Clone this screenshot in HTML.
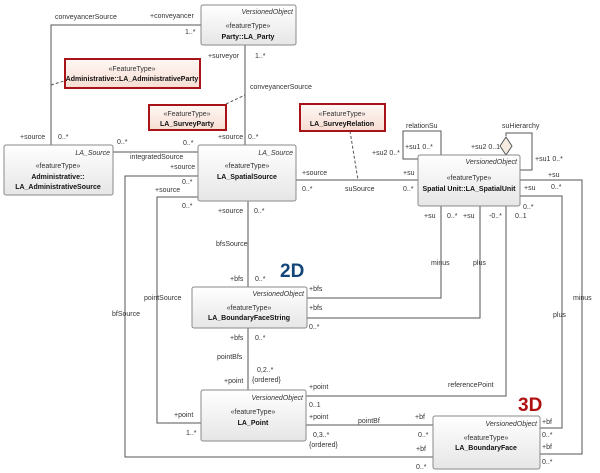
<!DOCTYPE html>
<html><head><meta charset="utf-8"><style>
body{margin:0;background:#fff;width:600px;height:473px;overflow:hidden}
svg{display:block;font-family:"Liberation Sans",sans-serif}
text{font-size:7px;fill:#333}
.b{font-weight:bold;fill:#111}
.i{font-style:italic}
</style></head><body>
<svg width="600" height="473" viewBox="0 0 600 473">
<defs>
<linearGradient id="g" x1="0" y1="0" x2="0" y2="1"><stop offset="0" stop-color="#ffffff"/><stop offset="1" stop-color="#e6e6e6"/></linearGradient>
<linearGradient id="r" x1="0" y1="0" x2="0" y2="1"><stop offset="0" stop-color="#fff8f4"/><stop offset="1" stop-color="#f6ddd2"/></linearGradient>
</defs>
<g fill="none" stroke="#555" stroke-width="1">
<polyline points="201,25 51,25 51,145"/>
<line x1="245" y1="45" x2="245" y2="145"/>
<line x1="113" y1="152" x2="198" y2="152"/>
<line x1="296" y1="180" x2="418" y2="180"/>
<line x1="248" y1="201" x2="248" y2="287"/>
<polyline points="198,176 125,176 125,457 433,457"/>
<polyline points="198,197 157,197 157,423 201,423"/>
<line x1="248" y1="328" x2="248" y2="390"/>
<polyline points="441,206 441,298 307,298"/>
<polyline points="480,206 480,318 307,318"/>
<polyline points="506,206 506,396 306,396"/>
<line x1="306" y1="425" x2="433" y2="425"/>
<polyline points="520,180 582,180 582,454 540,454"/>
<polyline points="520,196 562,196 562,428 540,428"/>
<polyline points="441,155 441,131 403,131 403,159 418,159"/>
<polyline points="506,136 506,133 532,133 532,170 520,170"/>
<g stroke-dasharray="3,2">
<line x1="51" y1="85" x2="64" y2="81"/>
<line x1="226" y1="104" x2="245" y2="95"/>
<line x1="350" y1="131" x2="358" y2="180"/>
</g>
</g>
<polygon points="506,137 512,146 506,155 500,146" fill="#f5ebe0" stroke="#555"/>
<!-- boxes -->
<g stroke="#8a8a8a" fill="url(#g)">
<rect x="201" y="5" width="95" height="40" rx="2"/>
<rect x="4" y="145" width="109" height="50" rx="2"/>
<rect x="198" y="145" width="98" height="56" rx="2"/>
<rect x="418" y="155" width="102" height="51" rx="2"/>
<rect x="192" y="287" width="115" height="41" rx="2"/>
<rect x="201" y="390" width="105" height="51" rx="2"/>
<rect x="433" y="416" width="107" height="53" rx="2"/>
</g>
<g stroke="#a8131a" stroke-width="2" fill="url(#r)">
<rect x="65" y="59" width="135" height="29"/>
<rect x="149" y="105" width="77" height="25"/>
<rect x="300" y="104" width="85" height="27"/>
</g>
<text x="293" y="14" text-anchor="end" class="i">VersionedObject</text>
<text x="248" y="28" text-anchor="middle">«featureType»</text>
<text x="248" y="39" text-anchor="middle" class="b">Party::LA_Party</text>
<text x="132" y="71" text-anchor="middle">«FeatureType»</text>
<text x="132" y="81" text-anchor="middle" class="b">Administrative::LA_AdministrativeParty</text>
<text x="187" y="116" text-anchor="middle">«FeatureType»</text>
<text x="187" y="126" text-anchor="middle" class="b">LA_SurveyParty</text>
<text x="342" y="116" text-anchor="middle">«FeatureType»</text>
<text x="342" y="126" text-anchor="middle" class="b">LA_SurveyRelation</text>
<text x="110" y="155" text-anchor="end" class="i">LA_Source</text>
<text x="58" y="168" text-anchor="middle">«featureType»</text>
<text x="58" y="179" text-anchor="middle" class="b">Administrative::</text>
<text x="58" y="189" text-anchor="middle" class="b">LA_AdministrativeSource</text>
<text x="293" y="155" text-anchor="end" class="i">LA_Source</text>
<text x="247" y="168" text-anchor="middle">«featureType»</text>
<text x="247" y="179" text-anchor="middle" class="b">LA_SpatialSource</text>
<text x="517" y="164" text-anchor="end" class="i">VersionedObject</text>
<text x="469" y="180" text-anchor="middle">«featureType»</text>
<text x="469" y="191" text-anchor="middle" class="b">Spatial Unit::LA_SpatialUnit</text>
<text x="304" y="296" text-anchor="end" class="i">VersionedObject</text>
<text x="249" y="310" text-anchor="middle">«featureType»</text>
<text x="249" y="320" text-anchor="middle" class="b">LA_BoundaryFaceString</text>
<text x="303" y="400" text-anchor="end" class="i">VersionedObject</text>
<text x="253" y="414" text-anchor="middle">«featureType»</text>
<text x="253" y="425" text-anchor="middle" class="b">LA_Point</text>
<text x="537" y="426" text-anchor="end" class="i">VersionedObject</text>
<text x="486" y="440" text-anchor="middle">«featureType»</text>
<text x="486" y="450" text-anchor="middle" class="b">LA_BoundaryFace</text>
<text x="280" y="277" style="font-size:19px;font-weight:bold;fill:#14457a">2D</text>
<text x="518" y="411" style="font-size:19px;font-weight:bold;fill:#b01010">3D</text>
<text x="55" y="19">conveyancerSource</text>
<text x="150" y="18">+conveyancer</text>
<text x="185" y="34">1..*</text>
<text x="208" y="58">+surveyor</text>
<text x="255" y="58">1..*</text>
<text x="250" y="89">conveyancerSource</text>
<text x="20" y="139">+source</text>
<text x="58" y="139">0..*</text>
<text x="117" y="144">0..*</text>
<text x="183" y="145">0..*</text>
<text x="218" y="139">+source</text>
<text x="248" y="139">0..*</text>
<text x="130" y="159">integratedSource</text>
<text x="170" y="169">+source</text>
<text x="182" y="184">0..*</text>
<text x="155" y="192">+source</text>
<text x="182" y="208">0..*</text>
<text x="218" y="213">+source</text>
<text x="254" y="213">0..*</text>
<text x="302" y="175">+source</text>
<text x="302" y="191">0..*</text>
<text x="345" y="191">suSource</text>
<text x="403" y="175">+su</text>
<text x="403" y="191">0..*</text>
<text x="406" y="128">relationSu</text>
<text x="405" y="149">+su1 0..*</text>
<text x="372" y="155">+su2 0..*</text>
<text x="502" y="128">suHierarchy</text>
<text x="471" y="149">+su2 0..1</text>
<text x="535" y="161">+su1 0..*</text>
<text x="548" y="177">+su</text>
<text x="551" y="189">0..*</text>
<text x="524" y="190">+su</text>
<text x="523" y="209">0..*</text>
<text x="515" y="218">0..1</text>
<text x="424" y="218">+su</text>
<text x="447" y="218">0..*</text>
<text x="463" y="218">+su</text>
<text x="489" y="218">-0..*</text>
<text x="431" y="265">minus</text>
<text x="473" y="265">plus</text>
<text x="573" y="300">minus</text>
<text x="553" y="317">plus</text>
<text x="216" y="246">bfsSource</text>
<text x="230" y="281">+bfs</text>
<text x="255" y="281">0..*</text>
<text x="309" y="291">+bfs</text>
<text x="309" y="310">+bfs</text>
<text x="309" y="329">0..*</text>
<text x="230" y="340">+bfs</text>
<text x="255" y="340">0..*</text>
<text x="144" y="300">pointSource</text>
<text x="112" y="316">bfSource</text>
<text x="217" y="359">pointBfs</text>
<text x="257" y="372">0,2..*</text>
<text x="252" y="382">{ordered}</text>
<text x="224" y="383">+point</text>
<text x="309" y="389">+point</text>
<text x="448" y="387">referencePoint</text>
<text x="309" y="407">0..1</text>
<text x="309" y="419">+point</text>
<text x="358" y="423">pointBf</text>
<text x="415" y="419">+bf</text>
<text x="174" y="417">+point</text>
<text x="186" y="435">1..*</text>
<text x="313" y="437">0,3..*</text>
<text x="309" y="447">{ordered}</text>
<text x="418" y="437">0..*</text>
<text x="416" y="451">+bf</text>
<text x="416" y="469">0..*</text>
<text x="542" y="424">+bf</text>
<text x="542" y="437">0..*</text>
<text x="542" y="449">+bf</text>
<text x="542" y="464">0..*</text>
</svg>
</body></html>
